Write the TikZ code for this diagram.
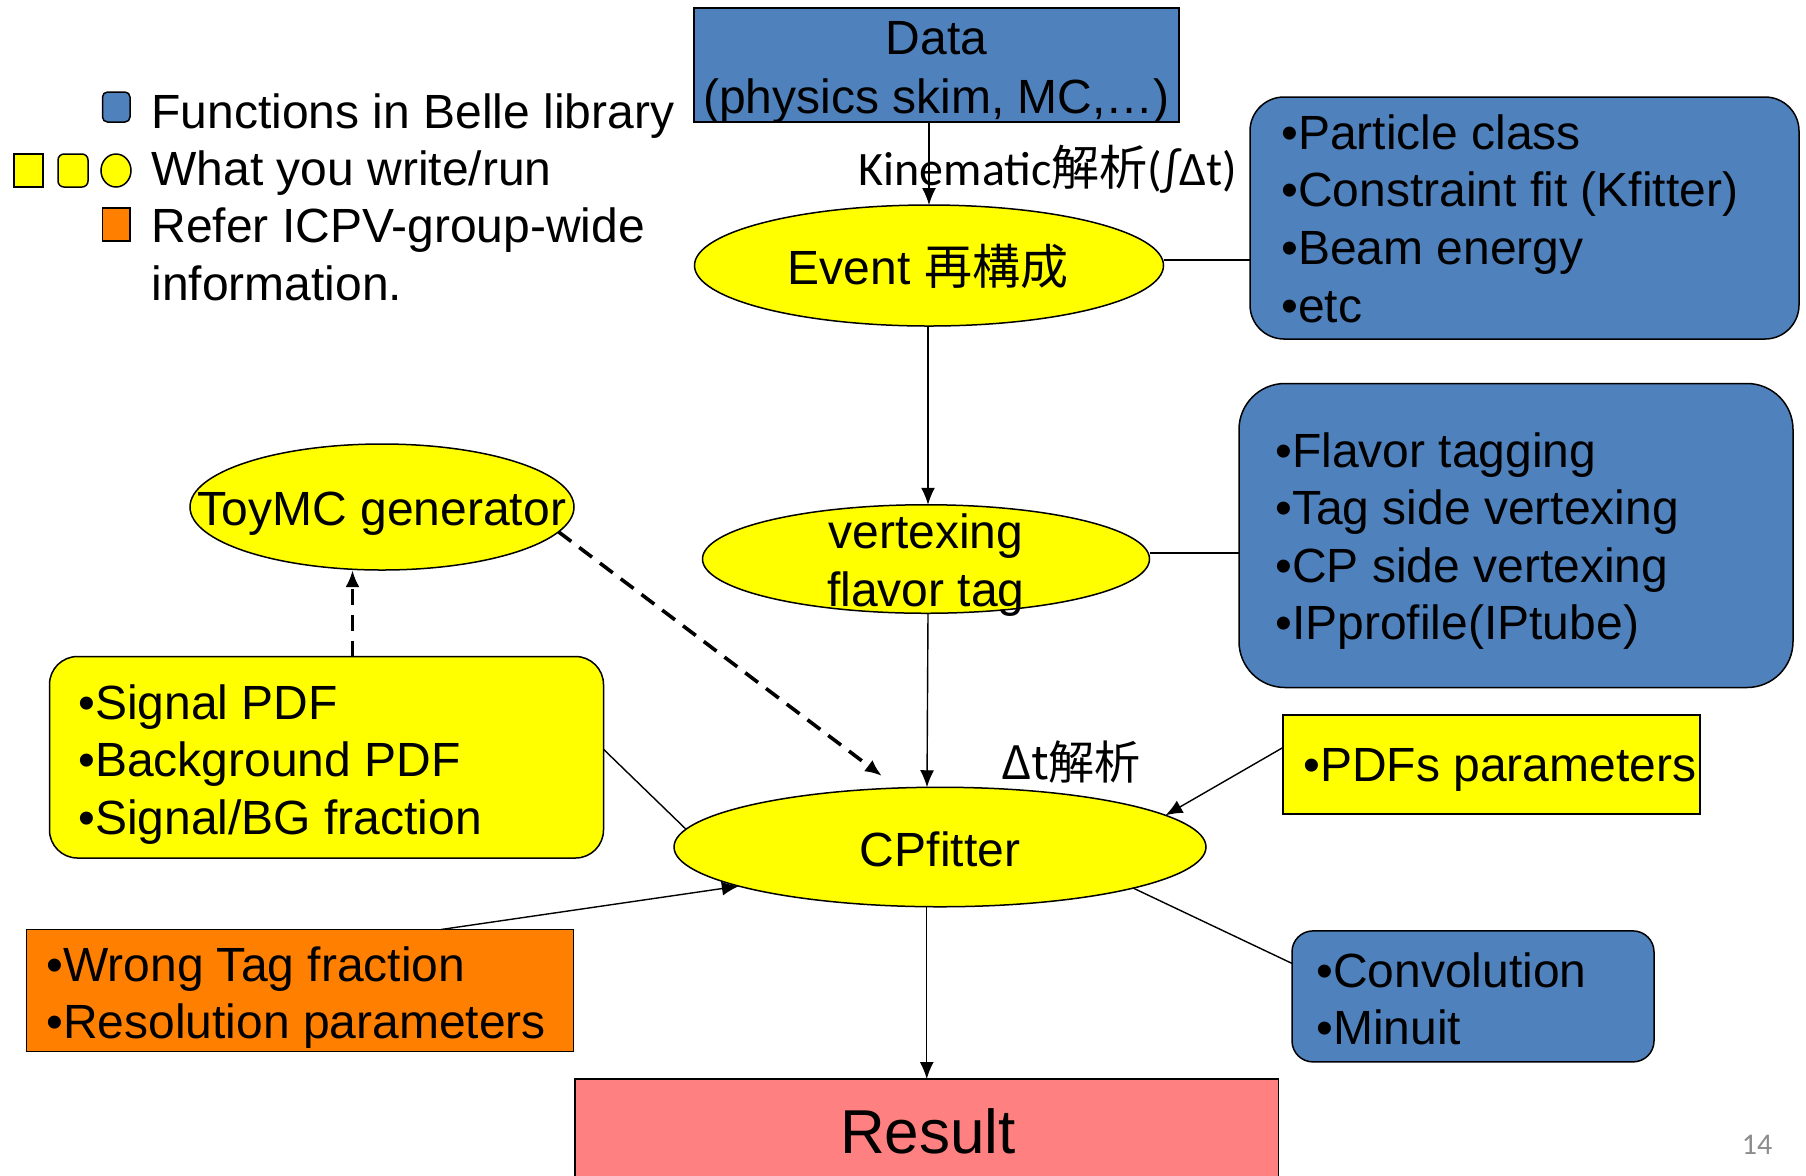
\documentclass[tikz,border=0pt]{standalone}
\usepackage{fontspec}
\setmainfont{Liberation Sans}
\newfontfamily\cjk{Noto Sans CJK JP}
\newfontfamily\carl{Carlito}
\usetikzlibrary{shapes.geometric,arrows.meta,calc}
\definecolor{bblue}{HTML}{4F81BD}
\definecolor{yel}{HTML}{FFFF00}
\definecolor{org}{HTML}{FF8000}
\definecolor{pinkr}{HTML}{FF8080}
\definecolor{pgnum}{HTML}{8C8C8C}
\begin{document}
\begin{tikzpicture}[x=0.5pt,y=-0.5pt,
  shp/.style={draw=black,line width=0.75pt,inner sep=0pt,outer sep=0pt},
  bluebox/.style={shp,fill=bblue},
  yelbox/.style={shp,fill=yel},
  ell/.style={shp,fill=yel,ellipse},
  txt/.style={inner sep=0pt,font=\fontsize{24}{28.8}\selectfont,align=left},
  ctxt/.style={inner sep=0pt,font=\fontsize{24}{29.5}\selectfont,align=center},
  arr/.style={line width=0.7pt,-{Latex[length=8.5pt,width=7pt]}},
  ln/.style={line width=0.7pt},
  dsh/.style={line width=1.8pt,dash pattern=on 8pt off 5pt,-{Latex[length=8.5pt,width=7pt]}}
]
\useasboundingbox (0,0) rectangle (1806,1175);
\fill[white] (0,0) rectangle (1806,1175);

% legend
\node[shp,fill=bblue,rounded corners=2.5pt,minimum width=13.75pt,minimum height=15pt] (lg1) at (116.25,107) {};
\node[shp,fill=yel,minimum width=14.5pt,minimum height=16.5pt] (lg2) at (28.5,170.5) {};
\node[shp,fill=yel,rounded corners=3pt,minimum width=15pt,minimum height=16.5pt] (lg3) at (73,170.5) {};
\node[shp,fill=yel,ellipse,minimum width=15pt,minimum height=16.5pt] (lg4) at (116,170.5) {};
\node[shp,fill=org,minimum width=13.75pt,minimum height=16.5pt] (lg5) at (116.25,224.5) {};
\node[txt,anchor=base west] (lt1) at (151,128.8) {Functions in Belle library};
\node[txt,anchor=base west] (lt2) at (151,185.4) {What you write/run};
\node[txt,anchor=base west] (lt3) at (151,242.8) {Refer ICPV-group-wide};
\node[txt,anchor=base west] (lt4) at (151,300.8) {information.};

% main nodes
\node[bluebox,minimum width=242.5pt,minimum height=57pt] (data) at (936.5,65) {};
\node[ctxt] (datat) at (936.5,72.3) {Data\\(physics skim, MC,…)};

\node[ell,minimum width=234.5pt,minimum height=60.5pt] (ev) at (929,265.5) {};
\node[ctxt] (evt) at (928,266) {Event {\cjk 再構成}};

\node[bluebox,rounded corners=17pt,minimum width=274.5pt,minimum height=121pt] (b1) at (1524.5,218) {};
\node[txt,anchor=west] (b1t) at (1281,218.5) {•Particle class\\•Constraint fit (Kfitter)\\•Beam energy\\•etc};

\node[ell,minimum width=223.5pt,minimum height=54.25pt] (vt) at (926,559) {};
\node[ctxt,font=\fontsize{24}{29}\selectfont] (vtt) at (926,565) {vertexing\\flavor tag};

\node[bluebox,rounded corners=23pt,minimum width=277pt,minimum height=152pt] (b2) at (1516,535.5) {};
\node[txt,anchor=west] (b2t) at (1275,541) {•Flavor tagging\\•Tag side vertexing\\•CP side vertexing\\•IPprofile(IPtube)};

\node[ell,minimum width=266pt,minimum height=59.75pt] (cp) at (940,847) {};
\node[ctxt] (cpt) at (940,849) {CPfitter};

\node[shp,fill=pinkr,minimum width=351.75pt,minimum height=60.5pt] (res) at (926.75,1139.5) {};
\node[ctxt,font=\fontsize{31}{36}\selectfont] (rest) at (928,1131) {Result};

\node[ell,minimum width=192pt,minimum height=63pt] (toy) at (382,507) {};
\node[ctxt] (toyt) at (382,513.6) {ToyMC generator};

\node[yelbox,rounded corners=14pt,minimum width=277pt,minimum height=100.75pt] (sig) at (326.5,757.25) {};
\node[txt,anchor=west] (sigt) at (78,764.3) {•Signal PDF\\•Background PDF\\•Signal/BG fraction};

\node[shp,fill=org,minimum width=273.5pt,minimum height=61pt] (orb) at (300,990.5) {};
\node[txt,anchor=west] (orbt) at (46,997.5) {•Wrong Tag fraction\\•Resolution parameters};

\node[yelbox,minimum width=208.5pt,minimum height=49.5pt] (pdf) at (1491.5,764.5) {};
\node[txt,anchor=west] (pdft) at (1303,770.3) {•PDFs parameters};

\node[bluebox,rounded corners=10.5pt,minimum width=181pt,minimum height=65.5pt] (conv) at (1473,996.4) {};
\node[txt,anchor=west] (convt) at (1316,998.7) {•Convolution\\•Minuit};

% labels
\node[inner sep=0pt,font=\fontsize{24}{28}\carl] (kin) at (1048,169) {Kinematic{\cjk 解析}(∫Δt)};
\node[inner sep=0pt,font=\fontsize{23}{28}\cjk] (dtl) at (1071,762.5) {Δt解析};
\node[inner sep=0pt,font=\fontsize{15}{18}\carl,text=pgnum] (pg) at (1757,1145) {14};

% connectors
\coordinate (dashend) at (882,776);
\draw[arr] (data.south -| ev.north) -- (ev.north);
\draw[ln] ([yshift=2.75pt]ev.east) -- ([yshift=2.75pt]ev.east -| b1.west);
\draw[arr] (ev.south -| 928,0) -- (vt.north -| 928,0);
\draw[ln] ([yshift=3pt]vt.east) -- ([yshift=3pt]vt.east -| b2.west);
\draw[arr] (vt.south -| 928,0) -- (cp.north -| 927,0);
\draw[arr] (cp.south -| res.north) -- (res.north);
\draw[dsh] ([xshift=13pt]sig.north) -- ([xshift=13pt]sig.north |- toy.south);
\draw[dsh] (toy.-8) -- (dashend);
\draw[ln] ([yshift=4pt]sig.east) -- (cp.176);
\draw[arr] ([xshift=70.5pt]orb.north) -- (cp.191);
\draw[arr] ([yshift=8.5pt]pdf.west) -- (cp.8);
\draw[ln] (cp.-12) -- ([yshift=16.5pt]conv.west);
\end{tikzpicture}
\end{document}
